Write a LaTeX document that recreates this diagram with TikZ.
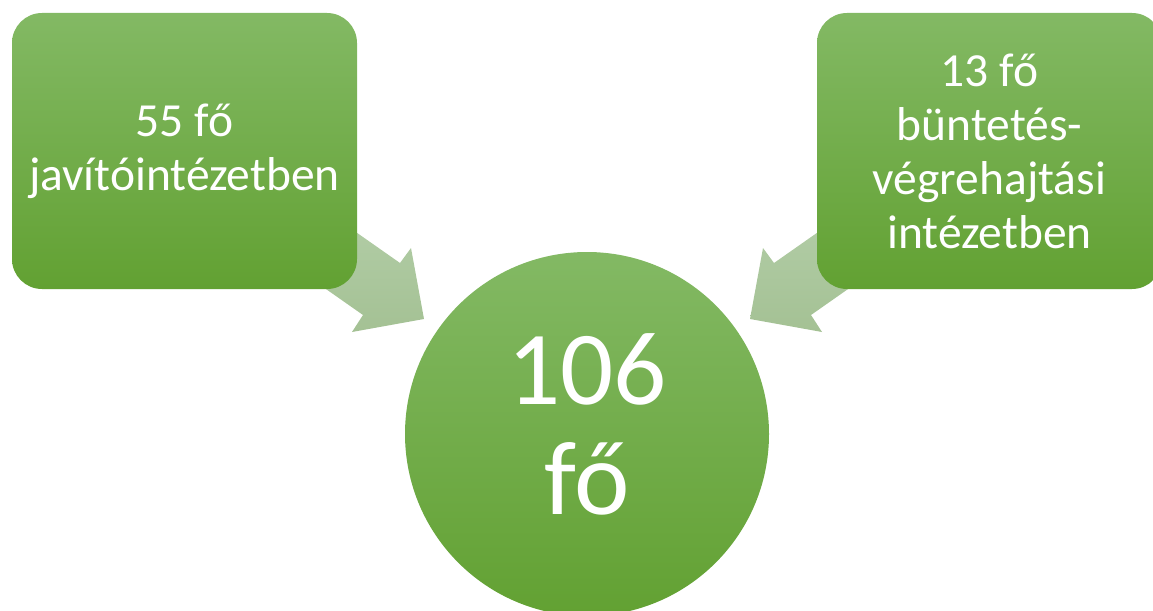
\documentclass[tikz,border=0pt]{standalone}
\usepackage{fontspec}
\setmainfont{Carlito}
\usetikzlibrary{calc}
\definecolor{gtop}{RGB}{131,185,100}
\definecolor{gbot}{RGB}{98,161,50}
\definecolor{atop}{RGB}{186,212,177}
\definecolor{abot}{RGB}{164,193,148}
\tikzset{
  box/.style={rounded corners=30pt, minimum width=345pt, minimum height=276pt,
    top color=gtop, bottom color=gbot, draw=none, text=white, align=center,
    inner sep=0pt, font=\fontsize{47.5}{54}\selectfont},
  bigcircle/.style={circle, minimum size=364pt, top color=gtop, bottom color=gbot,
    draw=none, inner sep=0pt},
  bigtext/.style={text=white, align=center, inner sep=0pt,
    font=\fontsize{105}{110}\selectfont},
  blockarrow/.style={top color=atop, bottom color=abot, draw=none}
}
\begin{document}
\begin{tikzpicture}[x=1pt,y=-1pt]
\useasboundingbox (0,0) rectangle (1153,610);
\clip (0,0) rectangle (1153,610);
% block arrows (behind the boxes)
\path[blockarrow] (236,148) -- (400,263) -- (411,248) -- (424,319) -- (352,332) -- (363,315) -- (199,200) -- cycle;
\path[blockarrow] (938,148) -- (774,263) -- (763,248) -- (750,319) -- (822,332) -- (811,315) -- (975,200) -- cycle;
% boxes
\node[box] (L) at (184.5,151) {55 fő\\javítóintézetben};
\node[box] (R) at (989.5,151) {13 fő\\büntetés-\\végrehajtási\\intézetben};
% circle
\node[bigcircle] (C) at (587,434) {};
\node[bigtext] (Ct) at ([yshift=10pt]C.center) {106\\fő};
\end{tikzpicture}
\end{document}
